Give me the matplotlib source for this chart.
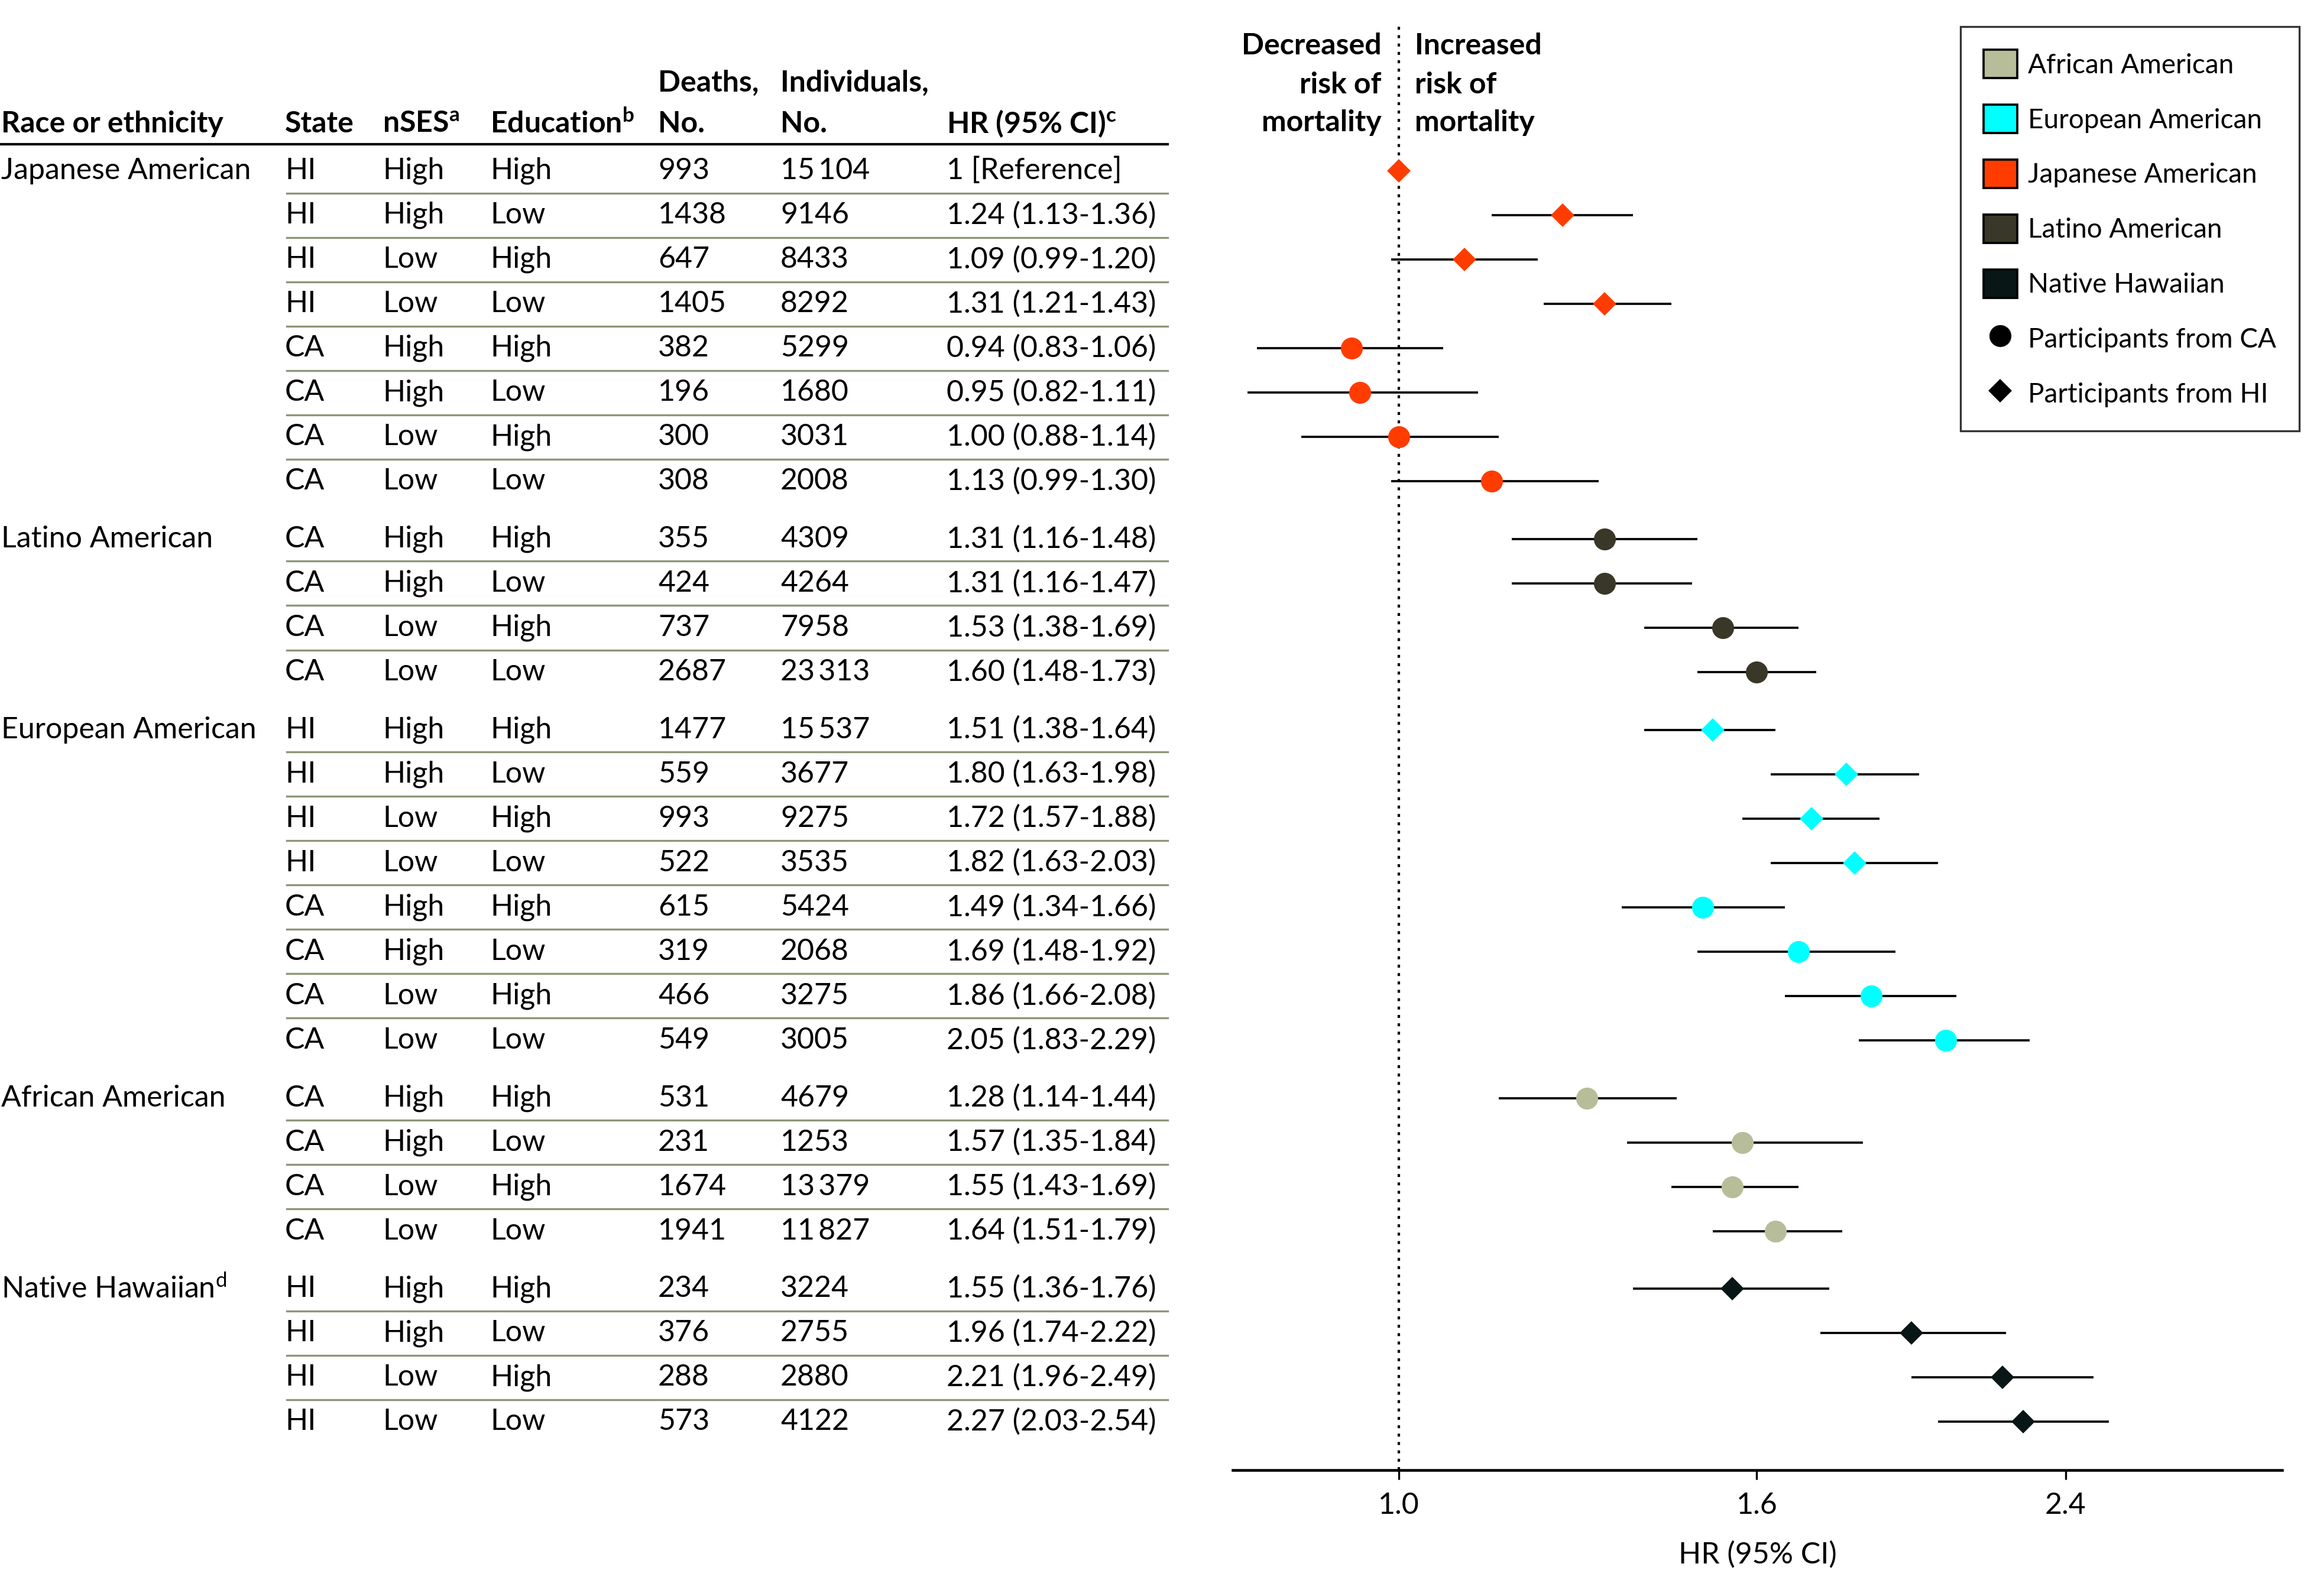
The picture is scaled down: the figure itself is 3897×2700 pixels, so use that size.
import numpy as np
import matplotlib
matplotlib.use("Agg")
import matplotlib.pyplot as plt
import matplotlib.transforms as mtransforms
from matplotlib.patches import Patch
from matplotlib.lines import Line2D

plt.rcParams['font.family'] = ['Lato', 'DejaVu Sans']
plt.rcParams['mathtext.default'] = 'regular'

# ---------------- data ----------------
groups = ['Japanese American', 'Latino American', 'European American',
          'African American', 'Native Hawaiian']
group_labels = ['Japanese American', 'Latino American', 'European American',
                'African American', 'Native Hawaiian$^{d}$']
group_sizes = [8, 4, 8, 4, 4]
group_colors = {'African American': '#B7BD98', 'European American': '#00FFFF',
                'Japanese American': '#FF3C00', 'Latino American': '#393828',
                'Native Hawaiian': '#081616'}

states = ['HI', 'HI', 'HI', 'HI', 'CA', 'CA', 'CA', 'CA',
          'CA', 'CA', 'CA', 'CA',
          'HI', 'HI', 'HI', 'HI', 'CA', 'CA', 'CA', 'CA',
          'CA', 'CA', 'CA', 'CA',
          'HI', 'HI', 'HI', 'HI']
nses = ['High', 'High', 'Low', 'Low'] * 7
education = ['High', 'Low', 'High', 'Low'] * 7
deaths = [993, 1438, 647, 1405, 382, 196, 300, 308,
          355, 424, 737, 2687,
          1477, 559, 993, 522, 615, 319, 466, 549,
          531, 231, 1674, 1941,
          234, 376, 288, 573]
individuals = [15104, 9146, 8433, 8292, 5299, 1680, 3031, 2008,
               4309, 4264, 7958, 23313,
               15537, 3677, 9275, 3535, 5424, 2068, 3275, 3005,
               4679, 1253, 13379, 11827,
               3224, 2755, 2880, 4122]
hr = [1.00, 1.24, 1.09, 1.31, 0.94, 0.95, 1.00, 1.13,
      1.31, 1.31, 1.53, 1.60,
      1.51, 1.80, 1.72, 1.82, 1.49, 1.69, 1.86, 2.05,
      1.28, 1.57, 1.55, 1.64,
      1.55, 1.96, 2.21, 2.27]
ci_low = [np.nan, 1.13, 0.99, 1.21, 0.83, 0.82, 0.88, 0.99,
          1.16, 1.16, 1.38, 1.48,
          1.38, 1.63, 1.57, 1.63, 1.34, 1.48, 1.66, 1.83,
          1.14, 1.35, 1.43, 1.51,
          1.36, 1.74, 1.96, 2.03]
ci_high = [np.nan, 1.36, 1.20, 1.43, 1.06, 1.11, 1.14, 1.30,
           1.48, 1.47, 1.69, 1.73,
           1.64, 1.98, 1.88, 2.03, 1.66, 1.92, 2.08, 2.29,
           1.44, 1.84, 1.69, 1.79,
           1.76, 2.22, 2.49, 2.54]
xticks = [1.0, 1.6, 2.4]
xtick_labels = ['1.0', '1.6', '2.4']
headers = ['Race or ethnicity', 'State', 'nSES$^{a}$', 'Education$^{b}$',
           'Deaths,\nNo.', 'Individuals,\nNo.', 'HR (95% CI)$^{c}$']

# ---------------- layout ----------------
W, H = 3897, 2700
fig = plt.figure(figsize=(W / 300, H / 300), dpi=300)
ax_top_px, ax_bot_px = 45, 2487
ax = fig.add_axes([2085 / W, 1 - ax_bot_px / H, (3860 - 2085) / W,
                   (ax_bot_px - ax_top_px) / H])

ROW0_PX, ROW_PX = 289, 75.05
GAP = 1.3


def px2row(p):
    return (p - ROW0_PX) / ROW_PX


# row positions
ypos, grp_of_row, first_rows = [], [], []
pos = 0.0
for g, n in enumerate(group_sizes):
    first_rows.append(len(ypos))
    for i in range(n):
        ypos.append(pos + i)
        grp_of_row.append(g)
    pos += n - 1 + GAP
ypos = np.array(ypos)

ax.set_xscale('log')
ax.set_xlim(0.804, 3.19)
ax.set_ylim(px2row(ax_bot_px), px2row(ax_top_px))

# reference line
ax.axvline(1.0, color='black', linestyle=(0, (1.2, 2.2)), lw=1.0, zorder=1)

# error bars and markers
for i in range(len(hr)):
    col = group_colors[groups[grp_of_row[i]]]
    if not np.isnan(ci_low[i]):
        ax.hlines(ypos[i], ci_low[i], ci_high[i], color='black', lw=0.9, zorder=2)
    if states[i] == 'CA':
        ax.plot(hr[i], ypos[i], marker='o', ms=7.9, color=col, mec=col, zorder=3)
    else:
        ax.plot(hr[i], ypos[i], marker='D', ms=5.9, color=col, mec=col, zorder=3)

# axes styling
for s in ['top', 'right', 'left']:
    ax.spines[s].set_visible(False)
ax.spines['bottom'].set_linewidth(1.1)
ax.set_yticks([])
ax.set_xticks(xticks)
ax.set_xticklabels(xtick_labels)
ax.minorticks_off()
ax.tick_params(axis='x', length=3.8, width=0.8, pad=5, labelsize=12)
ax.set_xlabel('HR (95% CI)', fontsize=12, labelpad=9)

# forest header
for txt, p in zip(['Decreased', 'risk of', 'mortality'], [78, 143, 208]):
    ax.annotate(txt, xy=(1.0, px2row(p)), xytext=(-7.0, 0), textcoords='offset points',
                ha='right', va='center', fontsize=12, fontweight='bold',
                annotation_clip=False)
for txt, p in zip(['Increased', 'risk of', 'mortality'], [78, 143, 208]):
    ax.annotate(txt, xy=(1.0, px2row(p)), xytext=(6.5, 0), textcoords='offset points',
                ha='left', va='center', fontsize=12, fontweight='bold',
                annotation_clip=False)

# ---------------- table ----------------
tr = mtransforms.blended_transform_factory(fig.transFigure, ax.transData)
col_x = [2, 482, 647, 829, 1113, 1320, 1601]
col_x = [c / W for c in col_x]

# header
for j, h in enumerate(headers):
    lines = h.split('\n')
    if len(lines) == 2:
        fig.text(col_x[j], px2row(140), lines[0], transform=tr, ha='left', va='center',
                 fontsize=12, fontweight='bold')
        fig.text(col_x[j], px2row(209), lines[1], transform=tr, ha='left', va='center',
                 fontsize=12, fontweight='bold')
    else:
        fig.text(col_x[j], px2row(209), h, transform=tr, ha='left', va='center',
                 fontsize=12, fontweight='bold')

fig.add_artist(Line2D([0, 1975 / W], [px2row(244)] * 2, transform=tr,
                      color='black', lw=1.0))


def fmt_n(n):
    return f"{n:,}".replace(',', '\u2009') if n >= 10000 else str(n)


for i in range(len(hr)):
    y = ypos[i]
    if i in first_rows:
        fig.text(col_x[0], y, group_labels[first_rows.index(i)], transform=tr,
                 ha='left', va='center', fontsize=12)
    if np.isnan(ci_low[i]):
        hr_txt = '1 [Reference]'
    else:
        hr_txt = f"{hr[i]:.2f} ({ci_low[i]:.2f}-{ci_high[i]:.2f})"
    vals = [states[i], nses[i], education[i], fmt_n(deaths[i]),
            fmt_n(individuals[i]), hr_txt]
    for j, v in enumerate(vals):
        fig.text(col_x[j + 1], y, v, transform=tr, ha='left', va='center', fontsize=12)
    # separator below row if next row in same group
    if i + 1 < len(hr) and grp_of_row[i + 1] == grp_of_row[i]:
        ymid = (ypos[i] + ypos[i + 1]) / 2
        fig.add_artist(Line2D([485 / W, 1975 / W], [ymid, ymid], transform=tr,
                              color='#8C9678', lw=0.8))

# ---------------- legend ----------------
handles = [Patch(facecolor=group_colors[g], edgecolor='black', lw=0.9)
           for g in sorted(groups)]
labels = sorted(groups)
handles += [Line2D([], [], marker='o', color='black', ls='none', ms=7.9),
            Line2D([], [], marker='D', color='black', ls='none', ms=5.9)]
labels += ['Participants from CA', 'Participants from HI']
leg = fig.legend(handles, labels, loc='upper right',
                 bbox_to_anchor=(3889 / W, 1 - 45 / H), fontsize=11,
                 frameon=True, fancybox=False, edgecolor='black',
                 handlelength=1.25, handleheight=1.25, labelspacing=0.97,
                 handletextpad=0.4, borderpad=0.85, borderaxespad=0)
leg.get_frame().set_linewidth(0.8)

fig.savefig('out.png', dpi=300)
